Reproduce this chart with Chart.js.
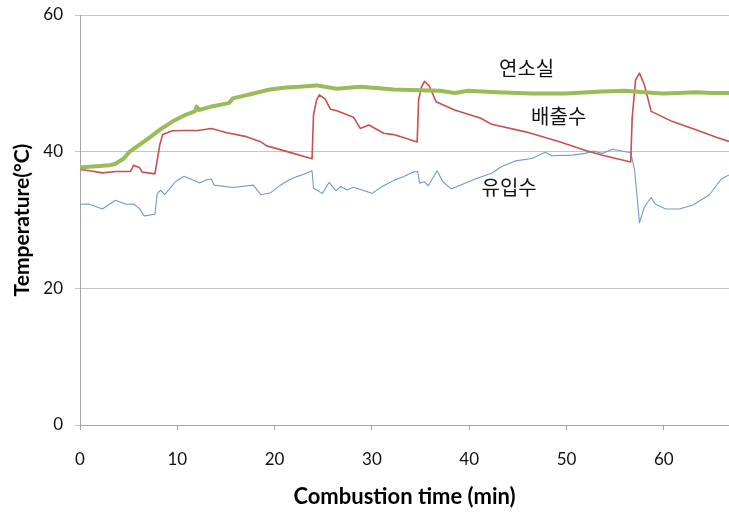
<!DOCTYPE html>
<html>
<head>
<meta charset="utf-8">
<script src="https://cdn.jsdelivr.net/npm/chart.js@4.4.1/dist/chart.umd.min.js"></script>
<style>
    body { margin: 0; background: #fff; }
    #wrap { width: 729px; height: 515px; }
</style>
</head>
<body>
<div id="wrap"><canvas id="tempChart"></canvas></div>
<script>
// combustion chamber (연소실)
const chamberTime = [0, 1, 2, 3, 3.6, 4.5, 5.1, 5.7, 7, 8.2, 9.5, 10.85, 11.8, 12.0, 12.2, 13.5, 15.3, 15.7, 17.5, 19.5, 21.2, 22.5, 24.3, 26.4, 28.8, 30.5, 32.2, 35.0, 37.0, 38.5, 39.9, 42.9, 46.4, 49.9, 53.6, 56.1, 58, 59.9, 61.5, 63.3, 65, 66.7];
const chamberTemp = [37.7, 37.8, 37.9, 38.0, 38.2, 39.0, 40.0, 40.6, 41.9, 43.2, 44.4, 45.4, 45.9, 46.6, 46.1, 46.6, 47.1, 47.8, 48.4, 49.1, 49.4, 49.5, 49.7, 49.2, 49.5, 49.3, 49.1, 49.0, 48.9, 48.6, 48.9, 48.7, 48.5, 48.5, 48.8, 48.9, 48.7, 48.5, 48.6, 48.7, 48.6, 48.6];

// outlet water (배출수)
const outletTime = [0, 1, 2.3, 3.7, 5.2, 5.5, 6.1, 6.4, 7.0, 7.7, 7.94, 8.2, 8.5, 9.5, 10.85, 12.1, 13.5, 15.0, 17.1, 18.5, 19.2, 21.4, 23.85, 24.0, 24.3, 24.6, 25.2, 25.75, 26.4, 28.1, 28.8, 29.7, 31.2, 32.25, 34.65, 34.8, 35.1, 35.4, 35.9, 36.6, 38.5, 41.2, 42.3, 45.8, 49.2, 51.9, 53.6, 56.6, 56.75, 57.1, 57.5, 58.0, 58.7, 60.9, 63.3, 65.4, 66.7];
const outletTemp = [37.4, 37.2, 36.9, 37.1, 37.1, 38.0, 37.7, 37.0, 36.9, 36.75, 38.8, 41.0, 42.5, 43.05, 43.1, 43.1, 43.4, 42.8, 42.2, 41.5, 40.85, 39.97, 38.95, 45.4, 47.5, 48.3, 47.7, 46.2, 46.0, 45.05, 43.4, 43.9, 42.7, 42.5, 41.4, 47.6, 49.5, 50.3, 49.6, 47.3, 46.1, 44.9, 44.0, 42.9, 41.5, 40.2, 39.5, 38.5, 45.0, 50.5, 51.5, 49.8, 45.9, 44.4, 43.2, 42.1, 41.5];

// inlet water (유입수)
const inletTime = [0, 0.9, 2.3, 3.65, 4.7, 5.5, 6.1, 6.6, 7.7, 7.94, 8.3, 8.7, 9.8, 10.7, 12.3, 13.0, 13.5, 13.8, 15.7, 17.8, 18.6, 19.6, 20.5, 21.5, 22.3, 23.0, 23.85, 24.0, 24.9, 25.6, 26.3, 26.8, 27.45, 28.1, 30.0, 31.2, 32.25, 33.3, 34.2, 34.7, 34.9, 35.4, 35.8, 36.7, 37.3, 38.15, 40.55, 42.3, 43.3, 44.75, 46.45, 47.8, 48.5, 50.6, 51.9, 52.8, 53.65, 54.75, 56.6, 57.0, 57.5, 58.0, 58.7, 59.1, 60.2, 61.6, 63.0, 64.7, 65.9, 66.7];
const inletTemp = [32.3, 32.35, 31.6, 32.9, 32.3, 32.35, 31.7, 30.6, 30.85, 33.9, 34.35, 33.7, 35.6, 36.4, 35.4, 35.9, 36.0, 35.1, 34.75, 35.1, 33.7, 34.0, 35.0, 35.9, 36.35, 36.7, 37.2, 34.65, 33.9, 35.5, 34.3, 34.9, 34.4, 34.8, 33.9, 35.0, 35.8, 36.35, 37.0, 37.1, 35.4, 35.6, 35.0, 37.2, 35.6, 34.55, 35.95, 36.85, 37.8, 38.65, 39.0, 39.9, 39.4, 39.5, 39.75, 40.1, 39.75, 40.35, 39.85, 37.3, 29.6, 31.9, 33.3, 32.35, 31.6, 31.6, 32.2, 33.7, 36.0, 36.6];

const seriesNames = ['연소실', '배출수', '유입수'];
// where each series name sits, in axis units
const nameSpots = [{ x: 45.9, y: 52.2 }, { x: 49.2, y: 45.2 }, { x: 44.1, y: 34.8 }];

const toPoints = (xs, ys) => xs.map((x, i) => ({ x, y: ys[i] }));

const AXIS_GREY = '#a6a6a6';
const LATIN = 'Lato, "Open Sans", sans-serif';

const seriesNamePlugin = {
    id: 'seriesNames',
    afterDatasetsDraw(chart) {
        const ctx = chart.ctx;
        const xs = chart.scales.x, ys = chart.scales.y;
        ctx.save();
        ctx.font = '20px "Noto Sans CJK KR", sans-serif';
        ctx.fillStyle = '#111';
        ctx.textAlign = 'center';
        ctx.textBaseline = 'middle';
        seriesNames.forEach((name, i) => {
            ctx.fillText(name, xs.getPixelForValue(nameSpots[i].x), ys.getPixelForValue(nameSpots[i].y));
        });
        ctx.restore();
    }
};

new Chart(document.getElementById('tempChart'), {
    type: 'line',
    data: {
        datasets: [
            {
                label: seriesNames[0],
                data: toPoints(chamberTime, chamberTemp),
                borderColor: '#9bbb59',
                borderWidth: 4,
            },
            {
                label: seriesNames[1],
                data: toPoints(outletTime, outletTemp),
                borderColor: '#c9504d',
                borderWidth: 1.6,
            },
            {
                label: seriesNames[2],
                data: toPoints(inletTime, inletTemp),
                borderColor: '#7199d2',
                borderWidth: 1.1,
            }
        ]
    },
    options: {
        responsive: true,
        maintainAspectRatio: false,
        animation: false,
        layout: { padding: { top: 15, right: 0, left: 0, bottom: 0 } },
        elements: {
            point: { radius: 0 },
            line: { tension: 0, fill: false, borderJoinStyle: 'round' }
        },
        plugins: {
            legend: { display: false },
            tooltip: { enabled: false }
        },
        scales: {
            x: {
                type: 'linear',
                min: 0,
                max: 66.7,
                afterBuildTicks: (scale) => {
                    scale.ticks = scale.ticks.filter(t => t.value % 10 === 0);
                },
                afterFit: (scale) => { scale.height = 90; },
                grid: { drawOnChartArea: false, drawTicks: true, tickLength: 5, color: AXIS_GREY },
                border: { color: AXIS_GREY },
                ticks: { stepSize: 10, padding: 19, color: '#111', font: { family: LATIN, size: 17 } },
                title: {
                    display: true,
                    text: 'Combustion time (min)',
                    color: '#000',
                    padding: 5,
                    font: { family: LATIN, size: 22, weight: 'bold' }
                }
            },
            y: {
                min: 0,
                max: 60,
                afterFit: (scale) => {
                    scale.width = 80;
                    // let the layout padding alone decide the top edge
                    scale.paddingTop = 0;
                    scale.paddingBottom = 0;
                },
                grid: { color: '#c4c4c4', drawTicks: true, tickLength: 5 },
                border: { color: AXIS_GREY },
                ticks: { stepSize: 20, padding: 12, color: '#111', font: { family: LATIN, size: 17 } },
                title: {
                    display: true,
                    text: 'Temperature(°C)',
                    color: '#000',
                    padding: 10,
                    font: { family: LATIN, size: 21, weight: 'bold' }
                }
            }
        }
    },
    plugins: [seriesNamePlugin]
});
</script>
</body>
</html>
